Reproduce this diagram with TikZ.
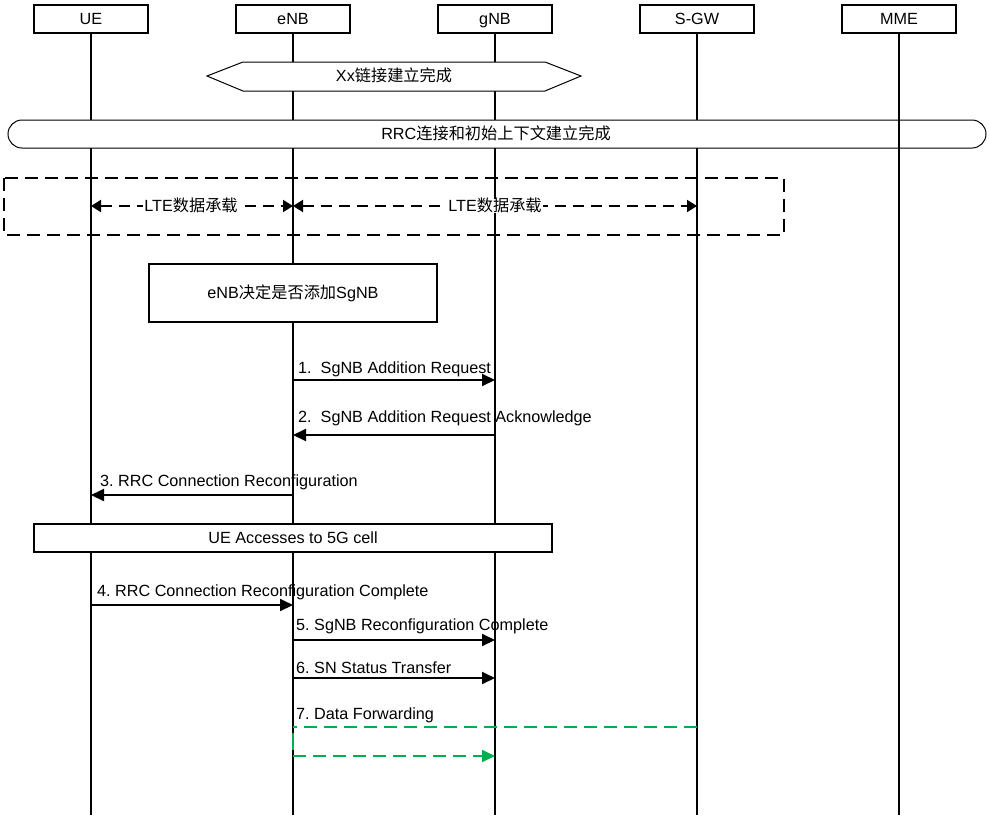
\documentclass[tikz,border=0pt]{standalone}
\usepackage{fontspec}
\setmainfont{Liberation Sans}
\newfontfamily\cjk{Noto Sans CJK SC}
\usepackage{tikz}
\usetikzlibrary{arrows.meta,positioning,calc}
\definecolor{FlowGreen}{HTML}{00B050}
\frenchspacing
\tikzset{
  mid/.style={text height=11.5pt,text depth=0.5pt},
  headbox/.style={draw,line width=2pt,fill=white,minimum width=114pt,minimum height=28pt,inner sep=0pt,mid},
  lifeline/.style={line width=2pt},
  msg/.style={line width=2pt,-{Triangle[length=13pt,width=12pt]}},
  bearer/.style={line width=2pt,dash pattern=on 11pt off 7pt,{Triangle[length=10pt,width=12pt]}-{Triangle[length=10pt,width=12pt]}},
  fwd/.style={FlowGreen,line width=2pt,dash pattern=on 13pt off 7pt},
  msglabel/.style={anchor=base west,inner sep=0pt},
  notebox/.style={draw,line width=2pt,fill=white,inner sep=0pt,mid},
}
\begin{document}
\begin{tikzpicture}[x=1pt,y=-1pt,font=\fontsize{16.2}{18}\selectfont]
\useasboundingbox (0,0) rectangle (989,820);
% lifelines
\foreach \n/\x/\lab in {ue/91/UE,enb/293/eNB,gnb/495/gNB,sgw/697/S-GW,mme/899/MME} {
  \node[headbox] (\n) at (\x,19) {\lab};
  \coordinate (\n-end) at (\x,815);
  \draw[lifeline] (\n.south) -- (\n-end);
  \foreach \k/\y in {b/206,m1/380,m2/435,m3/495,m4/605,m5/640,m6/678,f1/727,f2/756,f3/733,f4/750} {
    \coordinate (\n-\k) at (\x,\y);
  }
}
% Xx link
\draw[fill=white,line width=1pt] (207,76) -- (243,62) -- (545,62) -- (581,76) -- (545,91) -- (243,91) -- cycle;
\node[inner sep=0pt,mid] (xxlink) at (394,76) {Xx{\cjk 链接建立完成}};
% RRC setup
\draw[fill=white,line width=1pt,rounded corners=14pt] (8,120) rectangle (986,148);
\node[inner sep=0pt,mid] (rrcdone) at (496,134) {RRC{\cjk 连接和初始上下文建立完成}};
\draw[lifeline] (mme-end |- 0,120) -- (mme-end |- 0,148);
% LTE bearers
\draw[line width=2pt,dash pattern=on 13pt off 7pt] (4,178) rectangle (784,235);
\draw[bearer] (ue-b) -- (enb-b);
\draw[bearer] (enb-b) -- (sgw-b);
\node[fill=white,inner sep=1pt,mid] (lte1) at (191,206) {LTE{\cjk 数据承载}};
\node[fill=white,inner sep=1pt,mid] (lte2) at (495,206) {LTE{\cjk 数据承载}};
% decision
\node[notebox,minimum width=288pt,minimum height=58pt] (decide) at (293,293) {eNB{\cjk 决定是否添加}SgNB};
% SgNB addition
\draw[msg] (enb-m1) -- (gnb-m1);
\node[msglabel] (l1) at (298,373) {1.\ \ SgNB Addition Request};
\draw[msg] (gnb-m2) -- (enb-m2);
\node[msglabel] (l2) at (298,422) {2.\ \ SgNB Addition Request Acknowledge};
\draw[msg] (enb-m3) -- (ue-m3);
\node[msglabel] (l3) at (100,486) {3. RRC Connection Reconfiguration};
\node[notebox,minimum width=518pt,minimum height=28pt] (access) at (293,538) {UE Accesses to 5G cell};
\draw[msg] (ue-m4) -- (enb-m4);
\node[msglabel] (l4) at (97,596) {4. RRC Connection Reconfiguration Complete};
\draw[msg] (enb-m5) -- (gnb-m5);
\node[msglabel] (l5) at (296,630) {5. SgNB Reconfiguration Complete};
\draw[msg] (enb-m6) -- (gnb-m6);
\node[msglabel] (l6) at (296,673) {6. SN Status Transfer};
% data forwarding
\draw[fwd] (sgw-f1) -- (enb-f1);
\draw[FlowGreen,line width=2pt] (enb-f3) -- (enb-f4);
\draw[fwd,-{Triangle[length=13pt,width=12pt]}] (enb-f2) -- (gnb-f2);
\node[msglabel] (l7) at (296,719) {7. Data Forwarding};
\end{tikzpicture}
\end{document}
